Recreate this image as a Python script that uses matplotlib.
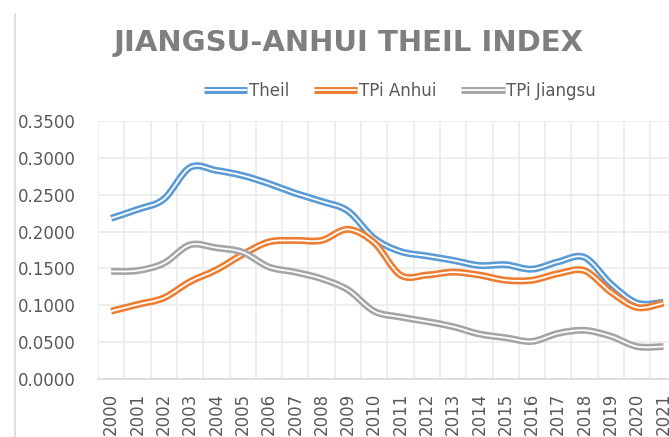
import numpy as np
import matplotlib
matplotlib.use("Agg")
import matplotlib.pyplot as plt
from matplotlib.path import Path
from matplotlib.patches import PathPatch
from matplotlib.lines import Line2D
import matplotlib.patheffects as pe

years = [str(y) for y in range(2000, 2022)]
theil = [0.218, 0.230, 0.244, 0.287, 0.283, 0.276, 0.265, 0.252, 0.241, 0.228,
         0.191, 0.173, 0.167, 0.161, 0.154, 0.155, 0.149, 0.159, 0.165, 0.129,
         0.103, 0.104]
tpi_anhui = [0.092, 0.101, 0.110, 0.132, 0.148, 0.169, 0.186, 0.188, 0.188, 0.203,
             0.185, 0.141, 0.141, 0.145, 0.141, 0.134, 0.134, 0.143, 0.147, 0.118,
             0.097, 0.103]
tpi_jiangsu = [0.146, 0.147, 0.157, 0.182, 0.178, 0.172, 0.152, 0.145, 0.136, 0.121,
               0.092, 0.084, 0.078, 0.071, 0.061, 0.056, 0.051, 0.062, 0.066, 0.058,
               0.044, 0.044]
names = ["Theil", "TPi Anhui", "TPi Jiangsu"]
colors = ["#5B9BD5", "#ED7D31", "#A5A5A5"]


def smooth_path(xs, ys):
    # excel style smoothed line: bezier segments, catmull-rom control points
    p = np.column_stack([xs, ys]).astype(float)
    n = len(p)
    verts = [p[0]]
    codes = [Path.MOVETO]
    for i in range(n - 1):
        p0 = p[max(i - 1, 0)]
        p1 = p[i]
        p2 = p[i + 1]
        p3 = p[min(i + 2, n - 1)]
        verts += [p1 + (p2 - p0) / 6, p2 - (p3 - p1) / 6, p2]
        codes += [Path.CURVE4] * 3
    return Path(verts, codes)


fig = plt.figure(figsize=(6.69, 4.37), dpi=100)
ax = fig.add_axes([98 / 669, 1 - 379 / 437, 578.6 / 669, 258 / 437])

x = np.arange(len(years))
for ys, c in zip([theil, tpi_anhui, tpi_jiangsu], colors):
    patch = PathPatch(smooth_path(x, ys), fill=False, edgecolor="white", lw=1.3,
                      capstyle="butt", joinstyle="round",
                      path_effects=[pe.Stroke(linewidth=5, foreground=c), pe.Normal()])
    ax.add_patch(patch)

ax.set_xlim(-0.5, len(years) - 0.5)
ax.set_ylim(0, 0.35)
ax.set_yticks(np.arange(0, 0.351, 0.05))
ax.set_yticklabels([f"{v:.4f}" for v in np.arange(0, 0.351, 0.05)])
ax.set_xticks(x)
ax.set_xticklabels(years, rotation=90)
ax.set_xticks(np.arange(-0.5, len(years), 1), minor=True)
ax.tick_params(axis="both", which="both", length=0, labelsize=12, colors="#595959")
ax.tick_params(axis="y", pad=16)
ax.tick_params(axis="x", pad=10)
ax.grid(True, axis="y", which="major", color="#EBEBEB", lw=1.2)
ax.grid(True, axis="x", which="minor", color="#EBEBEB", lw=1.2)
ax.set_axisbelow(True)
for s in ["top", "right", "left"]:
    ax.spines[s].set_visible(False)
ax.spines["bottom"].set_color("#D9D9D9")
ax.spines["bottom"].set_linewidth(1.2)

fig.text(349 / 669, 1 - 43 / 437, "JIANGSU-ANHUI THEIL INDEX", ha="center", va="center",
         fontsize=21, fontweight="bold", color="#7F7F7F")

handles = [Line2D([], [], color="white", lw=1.3, solid_capstyle="butt",
                  path_effects=[pe.Stroke(linewidth=5, foreground=c, capstyle="butt"), pe.Normal()])
           for c in colors]
fig.legend(handles, names, loc="center", bbox_to_anchor=(400 / 669, 1 - 91 / 437), ncol=3,
           frameon=False, fontsize=12, labelcolor="#595959", handlelength=2.6,
           handletextpad=0.1, columnspacing=1.5)

fig.add_artist(Line2D([15 / 669, 15 / 669], [0, 1 - 14 / 437], transform=fig.transFigure,
                      color="#D9D9D9", lw=1.2))

fig.savefig("out.png", dpi=100)
